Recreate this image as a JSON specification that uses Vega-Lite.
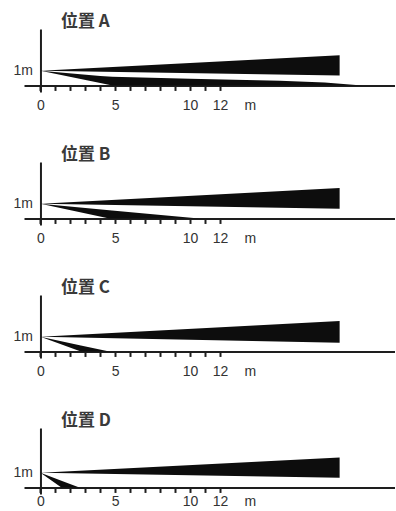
{
  "$schema": "https://vega.github.io/schema/vega-lite/v6.json",
  "padding": {"left": 13, "top": 13, "right": 0, "bottom": 0},
  "spacing": 70,
  "bounds": "flush",
  "config": {
    "view": {"stroke": null},
    "font": "Liberation Sans",
    "axis": {"grid": false, "domainColor": "#1e1e1e", "domainWidth": 2, "tickColor": "#1e1e1e", "tickWidth": 2, "tickSize": 5, "labelColor": "#333333", "labelFont": "Liberation Sans", "labelFontSize": 14, "labelOverlap": false, "title": null},
    "title": {"font": "Noto Sans CJK SC", "fontSize": 17, "fontWeight": "bold", "color": "#3a3a3a", "anchor": "start", "frame": "group", "dx": 37, "offset": -2}
  },
  "vconcat": [
    {
      "title": "位置 A",
      "width": 371, "height": 63,
      "data": {"values": [
        {"shape": "upper", "x": 0, "top": 1, "bottom": 1},
        {"shape": "upper", "x": 20, "top": 2.07, "bottom": 0.69},
        {"shape": "lower", "x": 0, "top": 1, "bottom": 1},
        {"shape": "lower", "x": 4, "top": 0.64, "bottom": 0.17},
        {"shape": "lower", "x": 4.8, "top": 0.6, "bottom": 0},
        {"shape": "lower", "x": 10, "top": 0.46, "bottom": 0},
        {"shape": "lower", "x": 16, "top": 0.33, "bottom": 0},
        {"shape": "lower", "x": 19, "top": 0.2, "bottom": 0},
        {"shape": "lower", "x": 21.5, "top": 0, "bottom": 0}
      ]},
      "mark": {"type": "area", "color": "#0d0d0d", "interpolate": "linear"},
      "encoding": {
        "detail": {"field": "shape"},
        "x": {"field": "x", "type": "quantitative", "scale": {"domain": [-1.1, 23.7], "nice": false, "zero": false},
          "axis": {"values": [0,1,2,3,4,5,6,7,8,9,10,11,12,14], "offset": -6.56, "labelPadding": 8,
            "labelExpr": "datum.value == 14 ? 'm' : ((datum.value == 0 || datum.value == 5 || datum.value == 10 || datum.value == 12) ? datum.label : '')",
            "tickOpacity": {"condition": {"test": "datum.value == 14", "value": 0}, "value": 1}}},
        "y": {"field": "top", "type": "quantitative", "scale": {"domain": [-0.45, 3.87], "nice": false, "zero": false},
          "axis": {"values": [1], "labelExpr": "'1m'", "ticks": false, "offset": -16.46, "labelPadding": 8}},
        "y2": {"field": "bottom"}
      }
    },
    {
      "title": "位置 B",
      "width": 371, "height": 63,
      "data": {"values": [
        {"shape": "upper", "x": 0, "top": 1, "bottom": 1},
        {"shape": "upper", "x": 20, "top": 2.08, "bottom": 0.66},
        {"shape": "lower", "x": 0, "top": 1, "bottom": 1},
        {"shape": "lower", "x": 4.6, "top": 0.566, "bottom": 0},
        {"shape": "lower", "x": 10.6, "top": 0, "bottom": 0}
      ]},
      "mark": {"type": "area", "color": "#0d0d0d", "interpolate": "linear"},
      "encoding": {
        "detail": {"field": "shape"},
        "x": {"field": "x", "type": "quantitative", "scale": {"domain": [-1.1, 23.7], "nice": false, "zero": false},
          "axis": {"values": [0,1,2,3,4,5,6,7,8,9,10,11,12,14], "offset": -6.56, "labelPadding": 8,
            "labelExpr": "datum.value == 14 ? 'm' : ((datum.value == 0 || datum.value == 5 || datum.value == 10 || datum.value == 12) ? datum.label : '')",
            "tickOpacity": {"condition": {"test": "datum.value == 14", "value": 0}, "value": 1}}},
        "y": {"field": "top", "type": "quantitative", "scale": {"domain": [-0.45, 3.87], "nice": false, "zero": false},
          "axis": {"values": [1], "labelExpr": "'1m'", "ticks": false, "offset": -16.46, "labelPadding": 8}},
        "y2": {"field": "bottom"}
      }
    },
    {
      "title": "位置 C",
      "width": 371, "height": 63,
      "data": {"values": [
        {"shape": "upper", "x": 0, "top": 1, "bottom": 1},
        {"shape": "upper", "x": 20, "top": 2.08, "bottom": 0.6},
        {"shape": "lower", "x": 0, "top": 1, "bottom": 1},
        {"shape": "lower", "x": 2.7, "top": 0.413, "bottom": 0},
        {"shape": "lower", "x": 4.6, "top": 0, "bottom": 0}
      ]},
      "mark": {"type": "area", "color": "#0d0d0d", "interpolate": "linear"},
      "encoding": {
        "detail": {"field": "shape"},
        "x": {"field": "x", "type": "quantitative", "scale": {"domain": [-1.1, 23.7], "nice": false, "zero": false},
          "axis": {"values": [0,1,2,3,4,5,6,7,8,9,10,11,12,14], "offset": -6.56, "labelPadding": 8,
            "labelExpr": "datum.value == 14 ? 'm' : ((datum.value == 0 || datum.value == 5 || datum.value == 10 || datum.value == 12) ? datum.label : '')",
            "tickOpacity": {"condition": {"test": "datum.value == 14", "value": 0}, "value": 1}}},
        "y": {"field": "top", "type": "quantitative", "scale": {"domain": [-0.45, 3.87], "nice": false, "zero": false},
          "axis": {"values": [1], "labelExpr": "'1m'", "ticks": false, "offset": -16.46, "labelPadding": 8}},
        "y2": {"field": "bottom"}
      }
    },
    {
      "title": "位置 D",
      "width": 371, "height": 66,
      "data": {"values": [
        {"shape": "upper", "x": 0, "top": 1, "bottom": 1},
        {"shape": "upper", "x": 20, "top": 2.05, "bottom": 0.67},
        {"shape": "lower", "x": 0, "top": 1, "bottom": 1},
        {"shape": "lower", "x": 1.4, "top": 0.46, "bottom": 0},
        {"shape": "lower", "x": 2.6, "top": 0, "bottom": 0}
      ]},
      "mark": {"type": "area", "color": "#0d0d0d", "interpolate": "linear"},
      "encoding": {
        "detail": {"field": "shape"},
        "x": {"field": "x", "type": "quantitative", "scale": {"domain": [-1.1, 23.7], "nice": false, "zero": false},
          "axis": {"values": [0,1,2,3,4,5,6,7,8,9,10,11,12,14], "offset": -6.56, "labelPadding": 2,
            "labelExpr": "datum.value == 14 ? 'm' : ((datum.value == 0 || datum.value == 5 || datum.value == 10 || datum.value == 12) ? datum.label : '')",
            "tickOpacity": {"condition": {"test": "datum.value == 14", "value": 0}, "value": 1}}},
        "y": {"field": "top", "type": "quantitative", "scale": {"domain": [-0.45, 4.08], "nice": false, "zero": false},
          "axis": {"values": [1], "labelExpr": "'1m'", "ticks": false, "offset": -16.46, "labelPadding": 8}},
        "y2": {"field": "bottom"}
      }
    }
  ]
}
